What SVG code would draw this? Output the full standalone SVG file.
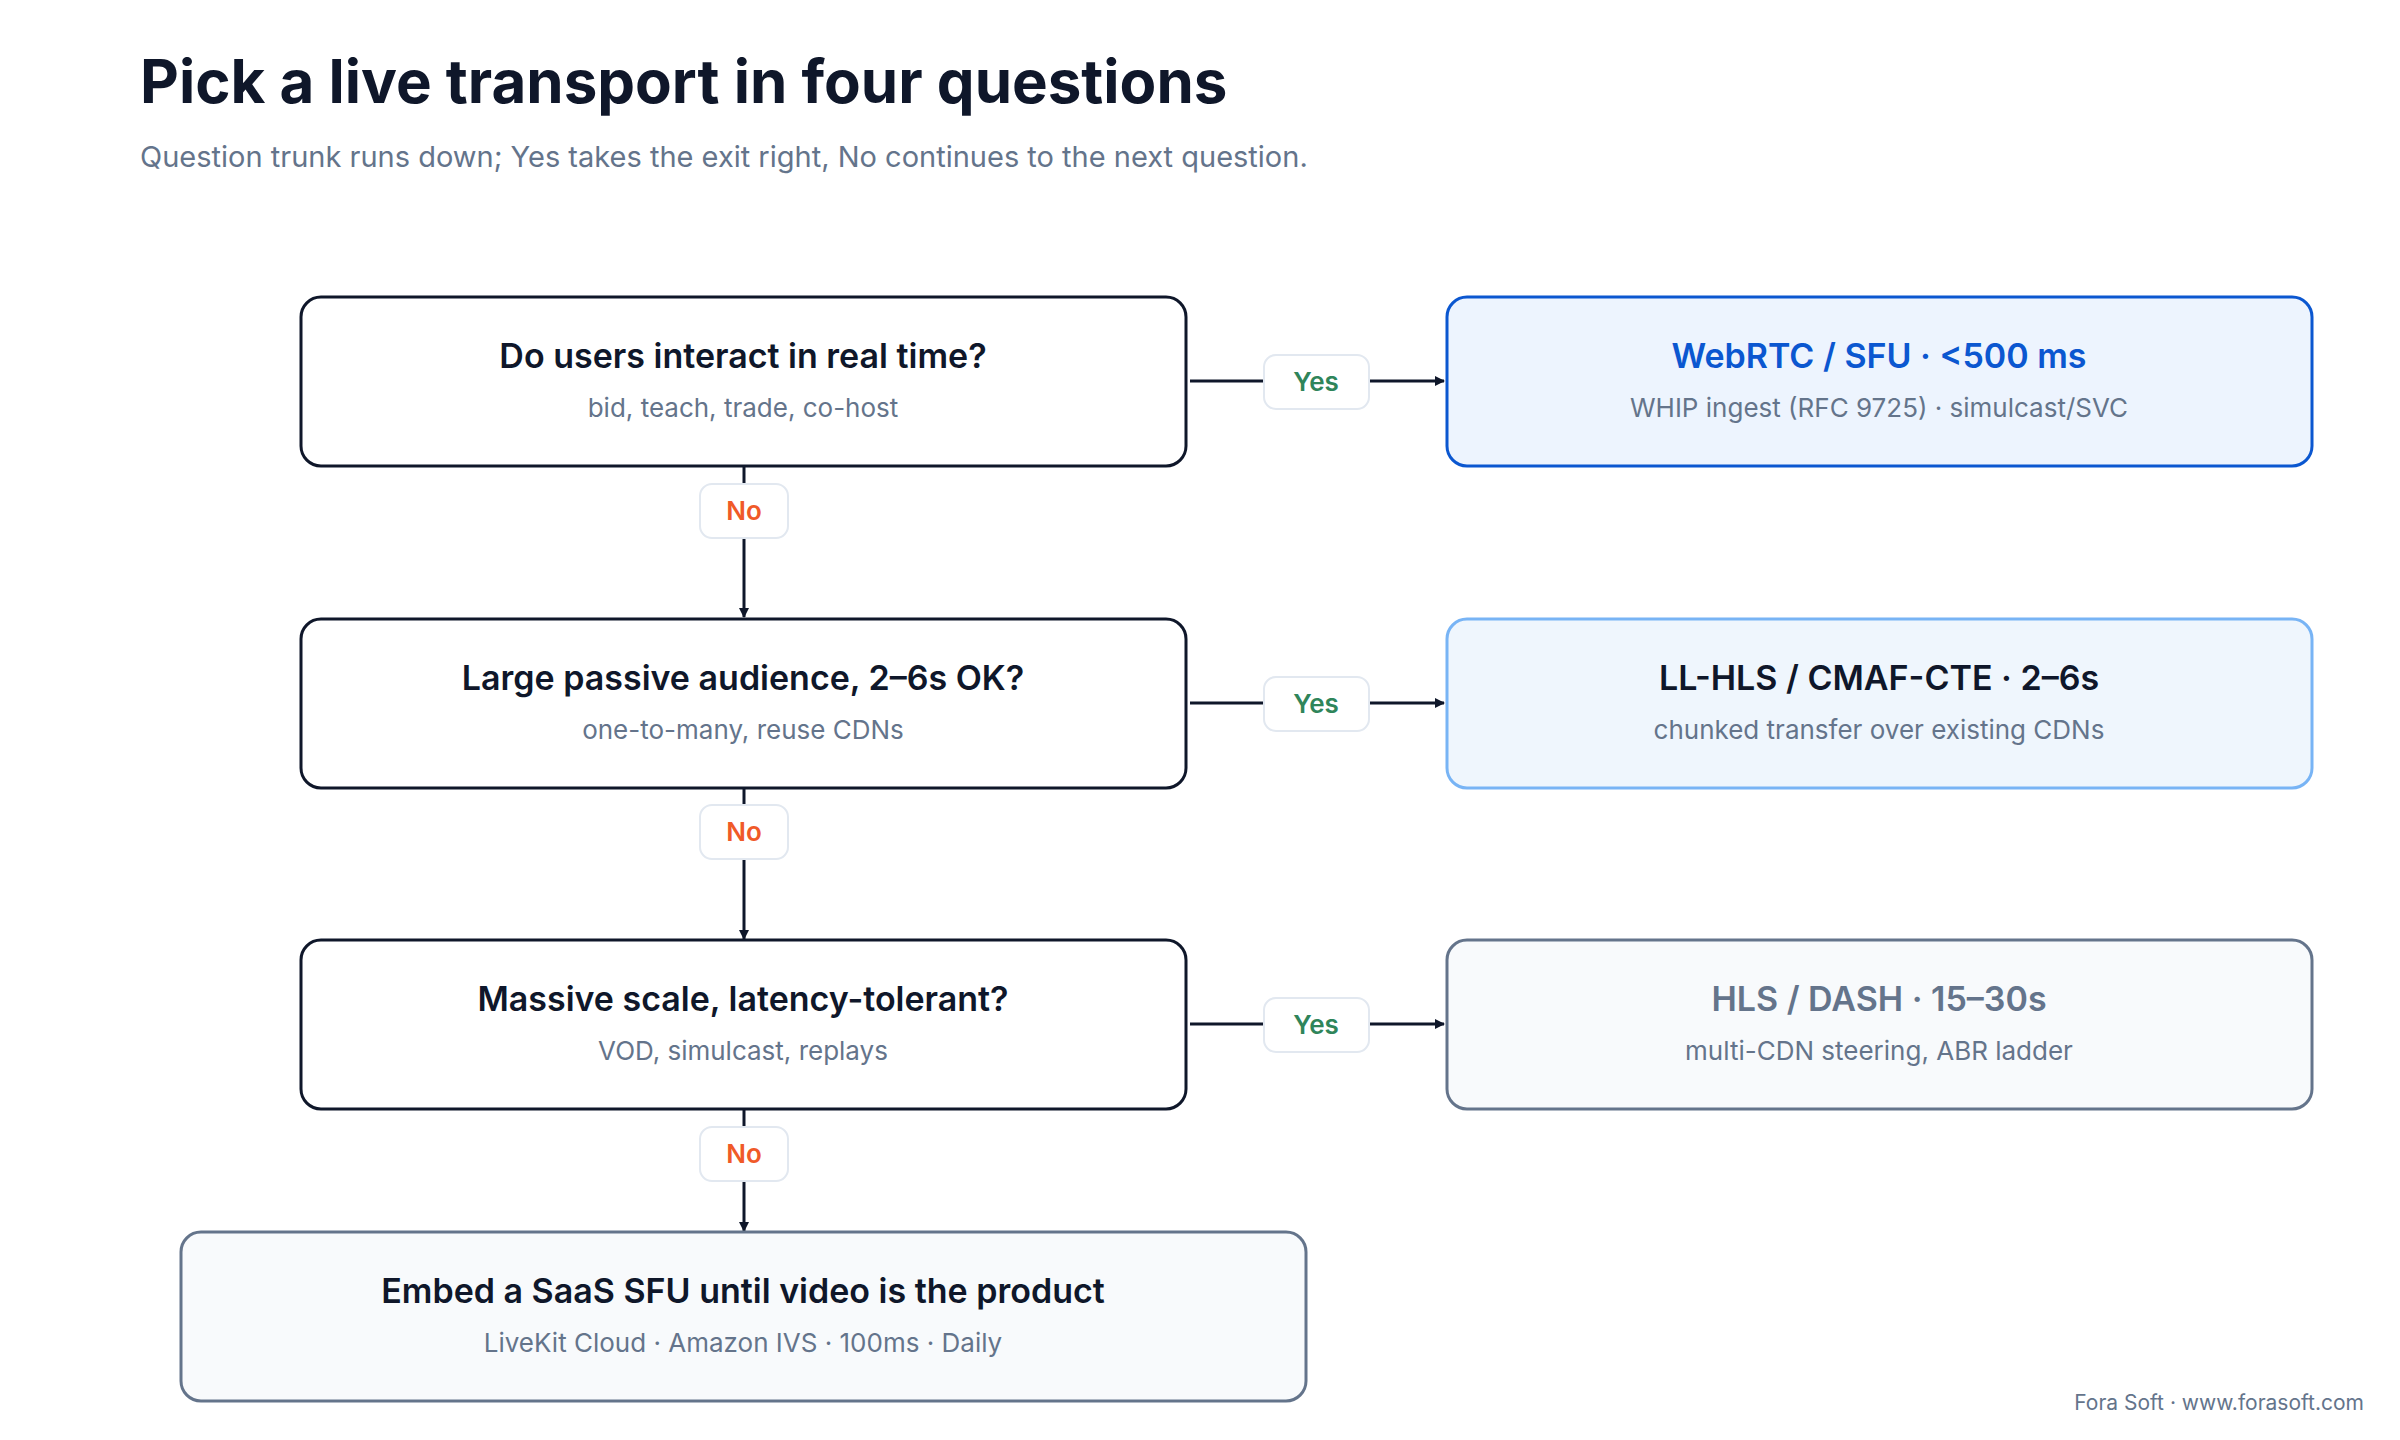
<svg xmlns="http://www.w3.org/2000/svg" width="2400" height="1440" viewBox="0 0 2400 1440">
<defs>
<marker id="ah" markerWidth="10" markerHeight="10" refX="9" refY="5" orient="auto" markerUnits="userSpaceOnUse" viewBox="0 0 10 10"><path d="M0,0 L10,5 L0,10 z" fill="#0f172a"/></marker>
<style>
text{font-family:Inter,"Noto Sans",sans-serif}
.q{fill:#fff;stroke:#0f172a;stroke-width:3}
.t{font-size:34px;font-weight:600;fill:#0f172a;text-anchor:middle}
.s{font-size:26px;fill:#64748b;text-anchor:middle}
.pill{fill:#fff;stroke:#e2e8f0;stroke-width:2}
.yes{font-size:26px;font-weight:600;fill:#2f855a;text-anchor:middle}
.no{font-size:26px;font-weight:600;fill:#f05a28;text-anchor:middle}
.ln{stroke:#0f172a;stroke-width:3;fill:none}
</style>
</defs>
<rect width="2400" height="1440" fill="#fff"/>
<text x="140" y="103" font-size="60" font-weight="700" fill="#0f172a">Pick a live transport in four questions</text>
<text x="140" y="167" font-size="29" fill="#64748b">Question trunk runs down; Yes takes the exit right, No continues to the next question.</text>
<g id="connectors">
<line class="ln" x1="1190" y1="381" x2="1444" y2="381" marker-end="url(#ah)"/>
<line class="ln" x1="1190" y1="703" x2="1444" y2="703" marker-end="url(#ah)"/>
<line class="ln" x1="1190" y1="1024" x2="1444" y2="1024" marker-end="url(#ah)"/>
<line class="ln" x1="744" y1="466" x2="744" y2="617" marker-end="url(#ah)"/>
<line class="ln" x1="744" y1="788" x2="744" y2="939" marker-end="url(#ah)"/>
<line class="ln" x1="744" y1="1109" x2="744" y2="1231" marker-end="url(#ah)"/>
<rect class="pill" x="1264" y="355" width="105" height="54" rx="12"/><text class="yes" x="1316" y="391">Yes</text>
<rect class="pill" x="1264" y="677" width="105" height="54" rx="12"/><text class="yes" x="1316" y="713">Yes</text>
<rect class="pill" x="1264" y="998" width="105" height="54" rx="12"/><text class="yes" x="1316" y="1034">Yes</text>
<rect class="pill" x="700" y="484" width="88" height="54" rx="12"/><text class="no" x="744" y="520">No</text>
<rect class="pill" x="700" y="805" width="88" height="54" rx="12"/><text class="no" x="744" y="841">No</text>
<rect class="pill" x="700" y="1127" width="88" height="54" rx="12"/><text class="no" x="744" y="1163">No</text>
</g>
<g id="q1"><rect class="q" x="301" y="297" width="885" height="169" rx="20"/><text class="t" x="743" y="368">Do users interact in real time?</text><text class="s" x="743" y="417">bid, teach, trade, co-host</text></g>
<g id="q2"><rect class="q" x="301" y="619" width="885" height="169" rx="20"/><text class="t" x="743" y="690">Large passive audience, 2–6s OK?</text><text class="s" x="743" y="739">one-to-many, reuse CDNs</text></g>
<g id="q3"><rect class="q" x="301" y="940" width="885" height="169" rx="20"/><text class="t" x="743" y="1011">Massive scale, latency-tolerant?</text><text class="s" x="743" y="1060">VOD, simulcast, replays</text></g>
<g id="q4"><rect x="181" y="1232" width="1125" height="169" rx="20" fill="#f8fafc" stroke="#64748b" stroke-width="3"/><text class="t" x="743" y="1303">Embed a SaaS SFU until video is the product</text><text class="s" x="743" y="1352">LiveKit Cloud · Amazon IVS · 100ms · Daily</text></g>
<g id="a1"><rect x="1447" y="297" width="865" height="169" rx="20" fill="#edf4fe" stroke="#0b57d0" stroke-width="3"/><text class="t" x="1879" y="368" style="fill:#0b57d0">WebRTC / SFU · &lt;500 ms</text><text class="s" x="1879" y="417">WHIP ingest (RFC 9725) · simulcast/SVC</text></g>
<g id="a2"><rect x="1447" y="619" width="865" height="169" rx="20" fill="#eff6fd" stroke="#78b4f5" stroke-width="3"/><text class="t" x="1879" y="690">LL-HLS / CMAF-CTE · 2–6s</text><text class="s" x="1879" y="739">chunked transfer over existing CDNs</text></g>
<g id="a3"><rect x="1447" y="940" width="865" height="169" rx="20" fill="#f8fafc" stroke="#64748b" stroke-width="3"/><text class="t" x="1879" y="1011" style="fill:#64748b">HLS / DASH · 15–30s</text><text class="s" x="1879" y="1060">multi-CDN steering, ABR ladder</text></g>
<text x="2364" y="1410" font-size="21" fill="#64748b" text-anchor="end">Fora Soft · www.forasoft.com</text>
</svg>
